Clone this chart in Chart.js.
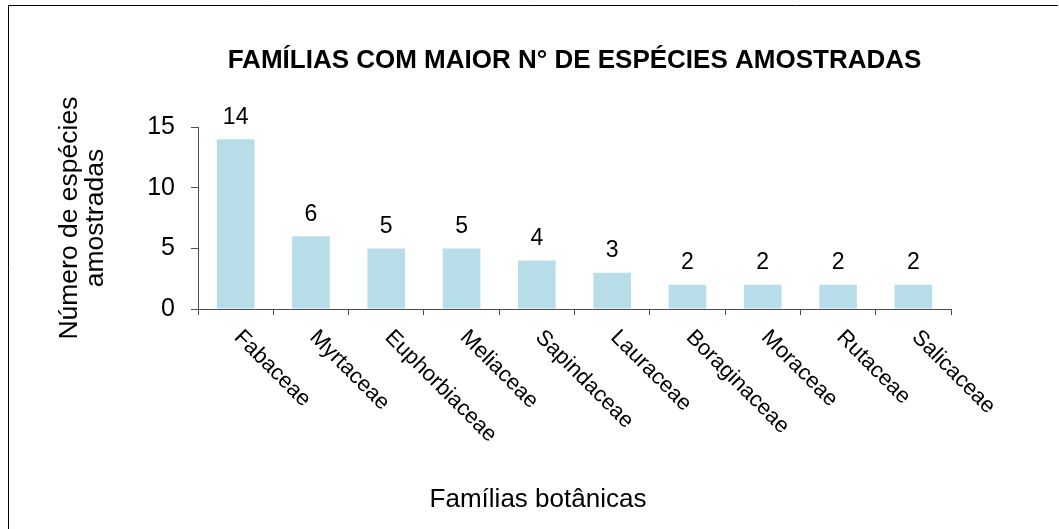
<!DOCTYPE html>
<html lang="pt">
<head>
<meta charset="utf-8">
<title>Famílias com maior nº de espécies amostradas</title>
<script src="https://cdn.jsdelivr.net/npm/chart.js@4"></script>
<style>
  html, body { margin:0; padding:0; background:#fff; }
  #wrap { position:relative; width:1059px; height:529px; background:#fff; }
</style>
</head>
<body>
<div id="wrap"><canvas id="grafico"></canvas></div>
<script>
const familias = ["Fabaceae","Myrtaceae","Euphorbiaceae","Meliaceae","Sapindaceae",
                  "Lauraceae","Boraginaceae","Moraceae","Rutaceae","Salicaceae"];
const especies = [14, 6, 5, 5, 4, 3, 2, 2, 2, 2];
const ticksY = [0, 5, 10, 15];

const titulo = "FAMÍLIAS COM MAIOR N° DE ESPÉCIES AMOSTRADAS";
const tituloY = ["Número de espécies", "amostradas"];
const tituloX = "Famílias botânicas";

const FONTE = "'Liberation Sans', Arial, sans-serif";
const COR_BARRA = "#B7DEE8";
const COR_EIXO = "#4d4d4d";

Chart.defaults.font.family = FONTE;
Chart.defaults.color = "#000";

// rótulos de valor, nomes inclinados, título do eixo X e moldura
const extras = {
  id: "extras",
  afterDatasetsDraw(chart) {
    const ctx = chart.ctx;
    const meta = chart.getDatasetMeta(0);
    ctx.save();
    ctx.font = "23px " + FONTE;
    ctx.fillStyle = "#000";
    ctx.textAlign = "center";
    ctx.textBaseline = "middle";
    meta.data.forEach((bar, i) => {
      ctx.fillText(String(especies[i]), bar.x, bar.y - 22);
    });
    ctx.restore();
  },
  afterDraw(chart) {
    const ctx = chart.ctx;
    const xs = chart.scales.x;
    const base = chart.chartArea.bottom;
    ctx.save();
    ctx.fillStyle = "#000";

    // nomes das famílias a 45°
    ctx.font = "22px " + FONTE;
    ctx.textAlign = "left";
    ctx.textBaseline = "middle";
    familias.forEach((f, i) => {
      ctx.save();
      ctx.translate(xs.getPixelForValue(i) + 2, base + 25);
      ctx.rotate(Math.PI / 4);
      ctx.fillText(f, 0, 0);
      ctx.restore();
    });

    // título do eixo X
    ctx.font = "26px " + FONTE;
    ctx.textAlign = "center";
    ctx.textBaseline = "alphabetic";
    ctx.fillText(tituloX, 538, 507);

    // moldura
    ctx.strokeStyle = "#000";
    ctx.lineWidth = 1;
    ctx.beginPath();
    ctx.moveTo(8.5, chart.height + 2);
    ctx.lineTo(8.5, 5.5);
    ctx.lineTo(1058, 5.5);
    ctx.stroke();
    ctx.restore();
  }
};

new Chart(document.getElementById("grafico"), {
  type: "bar",
  data: {
    labels: familias,
    datasets: [{
      data: especies,
      backgroundColor: COR_BARRA,
      borderWidth: 0,
      barPercentage: 0.5,
      categoryPercentage: 1
    }]
  },
  options: {
    responsive: true,
    maintainAspectRatio: false,
    animation: false,
    layout: { padding: { top: 0, left: 0, right: 108, bottom: 0 } },
    plugins: {
      legend: { display: false },
      tooltip: { enabled: false },
      title: {
        display: true,
        text: titulo,
        fullSize: false,
        color: "#000",
        font: { size: 26, weight: "bold" },
        padding: { top: 45, bottom: 51 }
      }
    },
    scales: {
      x: {
        grid: { display: true, drawOnChartArea: false, drawTicks: true, tickLength: 6, color: COR_EIXO, offset: true },
        border: { display: true, color: COR_EIXO, width: 1 },
        ticks: { display: false },
        afterFit(scale) { scale.height = 220; }
      },
      y: {
        min: ticksY[0],
        max: ticksY[ticksY.length - 1],
        afterBuildTicks(scale) { scale.ticks = ticksY.map(v => ({ value: v })); },
        grid: { display: true, drawOnChartArea: false, drawTicks: true, tickLength: 7, color: COR_EIXO },
        border: { display: true, color: COR_EIXO, width: 1 },
        ticks: { color: "#000", font: { size: 25 }, padding: 16 },
        title: {
          display: true,
          text: tituloY,
          color: "#000",
          font: { size: 26.5, lineHeight: 1.0 },
          padding: { top: 56, bottom: 0 }
        },
        afterFit(scale) { scale.width = 198; }
      }
    }
  },
  plugins: [extras]
});
</script>
</body>
</html>
